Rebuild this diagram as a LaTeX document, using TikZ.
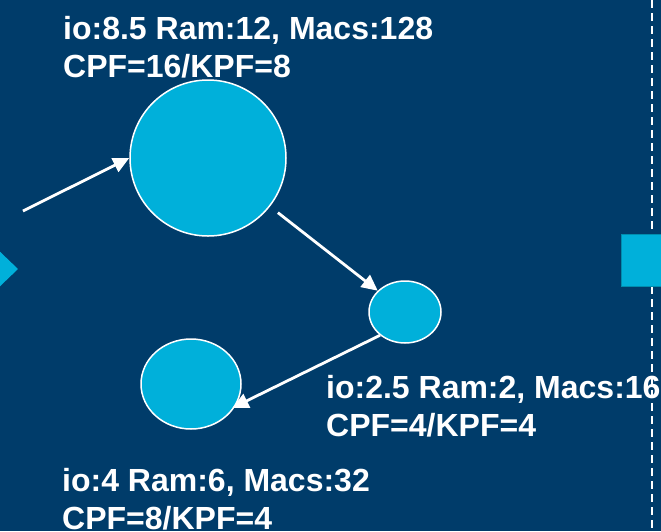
\documentclass[tikz,border=0pt]{standalone}
\usepackage{fontspec}
\setmainfont{Liberation Sans}
\usetikzlibrary{shapes.geometric,arrows.meta}
\definecolor{bgblue}{RGB}{0,60,106}
\definecolor{cyanfill}{RGB}{0,176,218}
\tikzset{
  bubble/.style={ellipse,draw=white,line width=1.5pt,fill=cyanfill,inner sep=0pt},
  flow/.style={draw=white,line width=2.8pt,-{Triangle[length=16pt,width=15pt]}},
  caption/.style={text=white,font=\bfseries\fontsize{32}{38}\selectfont,align=left,anchor=base west,inner sep=0pt}
}
\begin{document}
\begin{tikzpicture}[x=1pt,y=-1pt]
  % background
  \fill[bgblue] (0,0) rectangle (661,531);
  \useasboundingbox (0,0) rectangle (661,531);
  % dashed separator and side markers
  \draw[white,line width=1.5pt,dash pattern=on 8pt off 5pt] (652,0) -- (652,531);
  \fill[cyanfill] (-6,246) -- (18,269) -- (-6,292) -- cycle;
  \filldraw[fill=cyanfill,draw=cyanfill!80!black,line width=0.8pt] (621,234) rectangle (668,286);
  % layers
  \node[bubble,minimum width=156pt,minimum height=156pt] (big) at (208,158) {};
  \node[bubble,minimum width=72pt,minimum height=62pt] (mid) at (405,312) {};
  \node[bubble,minimum width=100pt,minimum height=90pt] (low) at (191,384) {};
  % connections
  \coordinate (src) at (23,211);
  \draw[flow] (src) -- (big.west);
  \draw[flow,shorten <=10pt] (big) -- (mid);
  \draw[flow,shorten >=-3pt] (mid.-137) -- (low.-27);
  % captions (anchored on the baseline of their last line)
  \node[caption] (capbig) at (63,77) {io:8.5 Ram:12, Macs:128\\CPF=16/KPF=8};
  \node[caption] (capmid) at (326,436) {io:2.5 Ram:2, Macs:16\\CPF=4/KPF=4};
  \node[caption] (caplow) at (62,529) {io:4 Ram:6, Macs:32\\CPF=8/KPF=4};
\end{tikzpicture}
\end{document}
